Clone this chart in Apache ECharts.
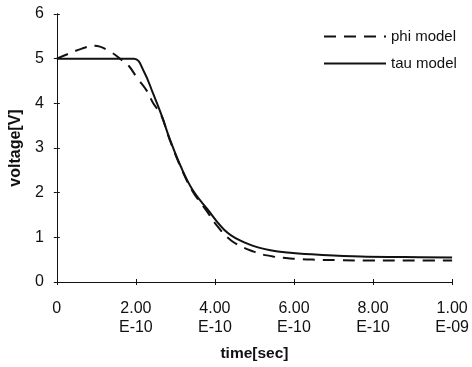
<!DOCTYPE html>
<html>
<head>
<meta charset="utf-8">
<script src="https://cdn.jsdelivr.net/npm/echarts@6/dist/echarts.min.js"></script>
<style>
  html, body { margin: 0; padding: 0; background: #fff; }
  #chart { width: 472px; height: 367px; }
</style>
</head>
<body>
<div id="chart"></div>
<script>
// Output voltage vs. time for the two delay models (time in seconds).
const phiTime = [0, 0.30e-10, 0.62e-10, 0.96e-10, 1.36e-10, 1.66e-10, 1.83e-10, 2.03e-10, 2.27e-10,
  2.44e-10, 2.64e-10, 2.85e-10, 3.14e-10, 3.43e-10, 3.80e-10, 4.00e-10, 4.41e-10, 4.98e-10,
  5.47e-10, 6.04e-10, 6.53e-10, 7.12e-10, 8.00e-10, 9.00e-10, 10.0e-10];
const phiVolt = [5.00, 5.11, 5.22, 5.29, 5.15, 4.96, 4.83, 4.57, 4.29,
  4.00, 3.74, 3.20, 2.56, 2.04, 1.58, 1.32, 0.93, 0.68,
  0.57, 0.52, 0.50, 0.49, 0.48, 0.48, 0.48];

const tauTime = [0, 1.0e-10, 1.95e-10, 2.20e-10, 2.44e-10, 2.64e-10, 2.85e-10, 3.14e-10, 3.43e-10,
  3.80e-10, 4.32e-10, 4.82e-10, 5.40e-10, 5.97e-10, 6.63e-10, 7.69e-10, 8.80e-10, 10.0e-10];
const tauVolt = [5.00, 5.00, 5.00, 4.72, 4.21, 3.76, 3.22, 2.58, 2.07,
  1.64, 1.10, 0.86, 0.71, 0.65, 0.61, 0.57, 0.56, 0.55];

const seriesNames = ['phi model', 'tau model'];
const timeTicks = { min: 0, max: 1e-9, step: 2e-10 };
const voltTicks = { min: 0, max: 6, step: 1 };

const zip = (xs, ys) => xs.map((x, i) => [x, ys[i]]);

// "2.00e-10" -> "2.00\nE-10"
function timeLabel(v) {
  if (Math.abs(v) < 1e-15) return '0';
  const parts = v.toExponential(2).split('e');
  const n = parseInt(parts[1], 10);
  return parts[0] + '\nE' + (n < 0 ? '-' : '+') + String(Math.abs(n)).padStart(2, '0');
}

const ink = '#111';
const font = 'Liberation Sans, Arial, sans-serif';

const xBase = {
  type: 'value', min: timeTicks.min, max: timeTicks.max, interval: timeTicks.step,
  splitLine: { show: false },
  axisLine: { show: true, lineStyle: { color: ink, width: 1 } }
};
const yBase = {
  type: 'value', min: voltTicks.min, max: voltTicks.max, interval: voltTicks.step,
  splitLine: { show: false },
  axisLine: { show: true, lineStyle: { color: ink, width: 1 } }
};

const chart = echarts.init(document.getElementById('chart'), null, { renderer: 'canvas' });
chart.setOption({
  animation: false,
  backgroundColor: '#fff',
  grid: { left: 48, right: 17, top: 14, bottom: 74 },
  legend: {
    orient: 'vertical', left: 318, top: 24,
    itemWidth: 62, itemHeight: 14, itemGap: 12,
    itemStyle: { color: 'rgba(0,0,0,0)', borderWidth: 0 },
    textStyle: { fontFamily: font, fontSize: 15, color: ink },
    data: seriesNames
  },
  xAxis: [
    Object.assign({}, xBase, {
      name: 'time[sec]', nameLocation: 'middle', nameGap: 64,
      nameTextStyle: { fontFamily: font, fontSize: 15.5, fontWeight: 'bold', color: ink },
      axisTick: { show: true, length: 3, lineStyle: { color: ink } },
      axisLabel: { formatter: timeLabel, margin: 17, lineHeight: 19,
        fontFamily: font, fontSize: 16, color: ink }
    }),
    Object.assign({}, xBase, {
      position: 'bottom',
      axisTick: { show: true, inside: true, length: 3, lineStyle: { color: ink } },
      axisLabel: { show: false }
    })
  ],
  yAxis: [
    Object.assign({}, yBase, {
      name: 'voltage[V]', nameLocation: 'middle', nameGap: 28,
      nameTextStyle: { fontFamily: font, fontSize: 16, fontWeight: 'bold', color: ink },
      axisTick: { show: true, length: 3, lineStyle: { color: ink } },
      axisLabel: { margin: 13, fontFamily: font, fontSize: 16, color: ink }
    }),
    Object.assign({}, yBase, {
      position: 'left',
      axisTick: { show: true, inside: true, length: 3, lineStyle: { color: ink } },
      axisLabel: { show: false }
    })
  ],
  series: [
    {
      name: seriesNames[0], type: 'line', xAxisIndex: 0, yAxisIndex: 0,
      data: zip(phiTime, phiVolt),
      symbol: 'none', smooth: 0.4,
      lineStyle: { color: ink, width: 2, type: [12, 8] },
      itemStyle: { color: ink }
    },
    {
      name: seriesNames[1], type: 'line', xAxisIndex: 0, yAxisIndex: 0,
      data: zip(tauTime, tauVolt),
      symbol: 'none', smooth: 0.4,
      lineStyle: { color: ink, width: 2, type: 'solid' },
      itemStyle: { color: ink }
    }
  ]
});
</script>
</body>
</html>
